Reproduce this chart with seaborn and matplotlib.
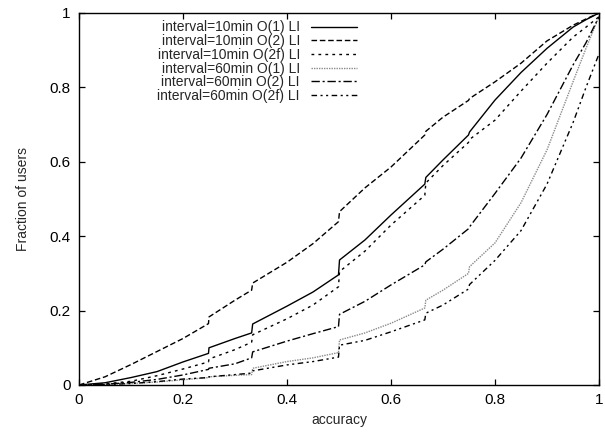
import numpy as np
import pandas as pd
import matplotlib
matplotlib.use("Agg")
import matplotlib.pyplot as plt
import seaborn as sns

# accuracy grid (small steps at 1/4, 1/3, 1/2, 2/3, 3/4)
acc = [0, 0.05, 0.1, 0.15, 0.2, 0.249, 0.25, 0.3, 0.332, 0.334, 0.4, 0.45,
       0.499, 0.501, 0.55, 0.6, 0.665, 0.667, 0.7, 0.749, 0.751, 0.8, 0.85,
       0.9, 0.95, 0.975, 1.0]

# fraction of users
i10_o1 = [0, 0.006, 0.02, 0.036, 0.062, 0.085, 0.1, 0.125, 0.14, 0.164, 0.212, 0.25,
          0.296, 0.336, 0.39, 0.457, 0.54, 0.558, 0.605, 0.672, 0.68, 0.766, 0.84,
          0.905, 0.962, 0.982, 1.0]
i10_o2 = [0, 0.022, 0.055, 0.09, 0.125, 0.165, 0.183, 0.228, 0.255, 0.274, 0.33, 0.38,
          0.439, 0.466, 0.53, 0.586, 0.672, 0.682, 0.72, 0.765, 0.77, 0.815, 0.865,
          0.925, 0.967, 0.984, 1.0]
i10_o2f = [0, 0.003, 0.01, 0.025, 0.043, 0.062, 0.07, 0.095, 0.115, 0.135, 0.178, 0.215,
           0.264, 0.305, 0.36, 0.43, 0.51, 0.543, 0.59, 0.652, 0.66, 0.712, 0.79,
           0.865, 0.935, 0.962, 0.99]
i60_o1 = [0, 0.001, 0.004, 0.008, 0.014, 0.02, 0.022, 0.026, 0.028, 0.045, 0.063, 0.073,
          0.087, 0.121, 0.14, 0.166, 0.207, 0.228, 0.255, 0.30, 0.318, 0.382, 0.49,
          0.632, 0.815, 0.905, 0.99]
i60_o2 = [0, 0.002, 0.007, 0.015, 0.027, 0.042, 0.045, 0.057, 0.073, 0.089, 0.118, 0.138,
          0.157, 0.19, 0.225, 0.269, 0.323, 0.331, 0.365, 0.42, 0.425, 0.515, 0.61,
          0.727, 0.86, 0.92, 0.99]
i60_o2f = [0, 0.001, 0.004, 0.009, 0.016, 0.02, 0.022, 0.028, 0.032, 0.038, 0.054, 0.063,
           0.075, 0.107, 0.12, 0.143, 0.175, 0.193, 0.215, 0.258, 0.27, 0.335, 0.415,
           0.54, 0.705, 0.8, 0.89]

labels = ["interval=10min O(1) LI", "interval=10min O(2) LI", "interval=10min O(2f) LI",
          "interval=60min O(1) LI", "interval=60min O(2) LI", "interval=60min O(2f) LI"]
series = [i10_o1, i10_o2, i10_o2f, i60_o1, i60_o2, i60_o2f]
styles = ["-", (0, (4, 2)), (0, (2, 3)), (0, (1, 0.8)), (0, (6, 2, 1.5, 2)),
          (0, (4, 2.5, 1.5, 2.5, 1.5, 2.5))]
colors = ["black", "black", "black", "#8a8a8a", "black", "black"]

sns.set_style("ticks")
plt.rcParams["font.family"] = ["Liberation Sans", "DejaVu Sans"]

fig = plt.figure(figsize=(6.05, 4.32), dpi=100)
ax = fig.add_axes([79 / 605, 1 - 385 / 432, 520 / 605, 372 / 432])

for lab, ys, ls, c in zip(labels, series, styles, colors):
    df = pd.DataFrame({"accuracy": acc, "frac": ys})
    sns.lineplot(data=df, x="accuracy", y="frac", ax=ax, color=c, linestyle=ls,
                 linewidth=1.0, label=lab, sort=False, estimator=None)

ax.set_xlim(0, 1)
ax.set_ylim(0, 1)
ticks = [0, 0.2, 0.4, 0.6, 0.8, 1]
tick_labels = ["0", "0.2", "0.4", "0.6", "0.8", "1"]
ax.set_xticks(ticks)
ax.set_xticklabels(tick_labels)
ax.set_yticks(ticks)
ax.set_yticklabels(tick_labels)
ax.tick_params(direction="in", length=4.5, width=0.9, labelsize=11,
               top=True, right=True, colors="black", pad=6)
for sp in ax.spines.values():
    sp.set_visible(True)
    sp.set_linewidth(1.0)
    sp.set_color("black")

ax.set_xlabel("accuracy", fontsize=10, labelpad=4)
ax.set_ylabel("Fraction of users", fontsize=10, labelpad=14)

leg = ax.legend(loc="upper right", bbox_to_anchor=(0.545, 0.995), frameon=False,
                markerfirst=False, fontsize=10, handlelength=3.3,
                labelspacing=-0.02, handletextpad=0.8, borderaxespad=0)

fig.savefig("out.png", dpi=100)
